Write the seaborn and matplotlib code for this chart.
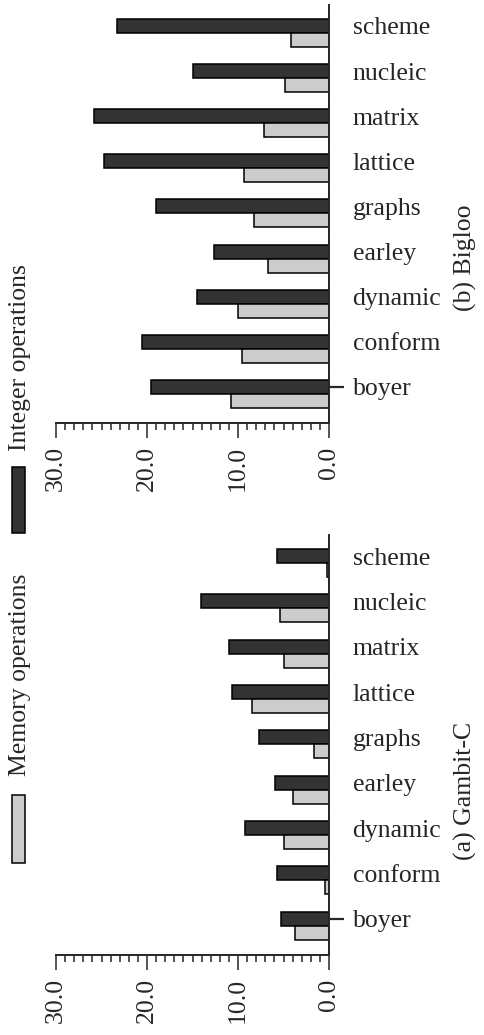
"""Integer vs. memory operations per benchmark, Gambit-C and Bigloo (rotated layout)."""

import matplotlib

matplotlib.use("Agg")

import matplotlib.pyplot as plt
import numpy as np
import pandas as pd
import seaborn as sns
from matplotlib.patches import Rectangle
from matplotlib.ticker import FixedLocator, MultipleLocator

# Benchmarks, top to bottom as drawn
benchmarks = ["scheme", "nucleic", "matrix", "lattice", "graphs", "earley", "dynamic", "conform", "boyer"]
series = ["Integer operations", "Memory operations"]

# Gambit-C
gambit_integer = [5.7, 14.1, 11.0, 10.7, 7.7, 5.9, 9.2, 5.7, 5.3]
gambit_memory = [0.2, 5.4, 4.9, 8.5, 1.6, 4.0, 4.9, 0.4, 3.7]

# Bigloo
bigloo_integer = [23.3, 15.0, 25.8, 24.7, 19.0, 12.6, 14.5, 20.6, 19.6]
bigloo_memory = [4.2, 4.8, 7.1, 9.3, 8.2, 6.7, 10.0, 9.6, 10.8]

value_ticks = [0.0, 10.0, 20.0, 30.0]

DARK = "#333333"
LIGHT = "#cccccc"
FS = 18.5


def long_frame(integer, memory):
    return pd.DataFrame({
        "benchmark": benchmarks * 2,
        "kind": [series[0]] * len(benchmarks) + [series[1]] * len(benchmarks),
        "value": list(integer) + list(memory),
    })


def draw_panel(ax, integer, memory):
    sns.barplot(
        data=long_frame(integer, memory),
        x="value",
        y="benchmark",
        hue="kind",
        order=benchmarks,
        hue_order=series,
        palette=[DARK, LIGHT],
        orient="h",
        width=0.62,
        edgecolor="black",
        linewidth=1.1,
        legend=False,
        ax=ax,
    )
    ax.set_xlim(30, 0)
    ax.set_ylim(len(benchmarks) - 0.355, -0.62)

    # value axis (bottom)
    ax.set_xticks(value_ticks)
    ax.set_xticklabels([f"{v:.1f}" for v in value_ticks], rotation=90, fontsize=FS)
    ax.xaxis.set_minor_locator(MultipleLocator(1))
    ax.tick_params(axis="x", which="major", length=10.8, width=1.1, pad=6, direction="out")
    ax.tick_params(axis="x", which="minor", length=5, width=1.1, direction="out")

    # benchmark labels on the right, aligned with the dark bars;
    # only the first benchmark (boyer) gets a visible tick mark
    pos = np.arange(len(benchmarks)) - 0.155
    ax.set_yticks(pos)
    ax.set_yticklabels(benchmarks, fontsize=FS)
    ax.yaxis.remove_overlapping_locs = False
    ax.yaxis.set_minor_locator(FixedLocator([pos[-1]]))
    ax.tick_params(axis="y", which="major", length=0, pad=17,
                   left=False, labelleft=False, right=True, labelright=True)
    ax.tick_params(axis="y", which="minor", length=10.8, width=1.6,
                   left=False, right=True, labelright=False)

    ax.set_xlabel("")
    ax.set_ylabel("")
    for side in ("top", "left"):
        ax.spines[side].set_visible(False)
    for side in ("bottom", "right"):
        ax.spines[side].set_linewidth(1.4)


sns.set_style("ticks")
plt.rcParams["font.family"] = ["Liberation Serif", "DejaVu Serif"]

W, H = 485, 1035
fig = plt.figure(figsize=(W / 100, H / 100), dpi=100)

ax_b = fig.add_axes([56 / W, 1 - 423 / H, 273 / W, 418 / H])
ax_a = fig.add_axes([56 / W, 1 - 955 / H, 273 / W, 420 / H])

draw_panel(ax_b, bigloo_integer, bigloo_memory)
draw_panel(ax_a, gambit_integer, gambit_memory)

fig.text(465 / W, 1 - 258 / H, "(b) Bigloo", rotation=90, ha="center", va="center", fontsize=FS)
fig.text(465 / W, 1 - 791 / H, "(a) Gambit-C", rotation=90, ha="center", va="center", fontsize=FS)

# rotated legend on the left edge
fig.add_artist(Rectangle((12 / W, 1 - 533 / H), 13 / W, 66 / H, transform=fig.transFigure,
                         facecolor=DARK, edgecolor="black", linewidth=1.1))
fig.add_artist(Rectangle((12 / W, 1 - 863 / H), 13 / W, 68 / H, transform=fig.transFigure,
                         facecolor=LIGHT, edgecolor="black", linewidth=1.1))
fig.text(20 / W, 1 - 358 / H, series[0], rotation=90, ha="center", va="center", fontsize=FS)
fig.text(20 / W, 1 - 675 / H, series[1], rotation=90, ha="center", va="center", fontsize=FS)

fig.savefig("out.png", dpi=100)
plt.close(fig)
